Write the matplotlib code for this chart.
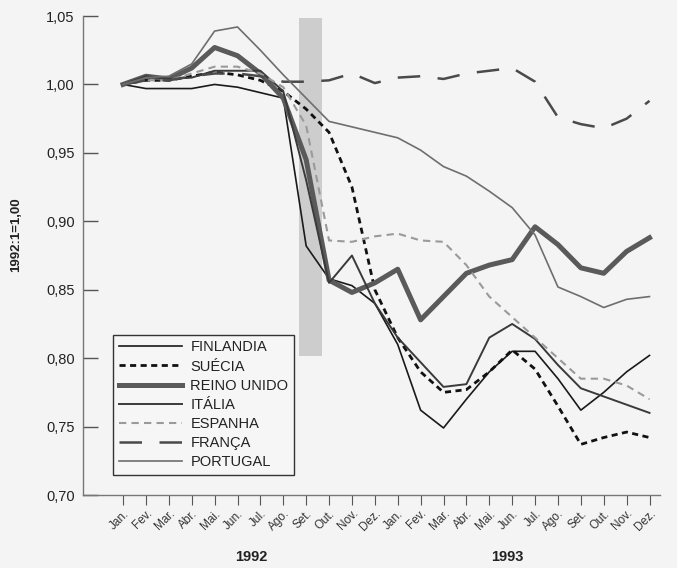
import matplotlib.pyplot as plt
import matplotlib.transforms as mtransforms

plt.rcParams['font.family'] = ['Liberation Sans', 'DejaVu Sans']

# months Jan 1992 .. Dez 1993
meses = ['Jan.', 'Fev.', 'Mar.', 'Abr.', 'Mai.', 'Jun.', 'Jul.', 'Ago.', 'Set.', 'Out.', 'Nov.', 'Dez.'] * 2

finlandia = [1.000, 0.997, 0.997, 0.997, 1.000, 0.998, 0.994, 0.990, 0.882, 0.858, 0.853, 0.840,
             0.810, 0.762, 0.749, 0.770, 0.790, 0.805, 0.805, 0.785, 0.762, 0.775, 0.790, 0.802]
suecia = [1.000, 1.003, 1.003, 1.006, 1.009, 1.007, 1.003, 0.995, 0.982, 0.965, 0.925, 0.850,
          0.815, 0.790, 0.775, 0.777, 0.790, 0.806, 0.792, 0.765, 0.737, 0.742, 0.746, 0.742]
reino_unido = [1.000, 1.006, 1.004, 1.012, 1.027, 1.021, 1.008, 0.990, 0.945, 0.857, 0.848, 0.855,
               0.865, 0.828, 0.845, 0.862, 0.868, 0.872, 0.896, 0.883, 0.866, 0.862, 0.878, 0.888]
italia = [1.000, 1.006, 1.004, 1.005, 1.010, 1.010, 1.010, 0.995, 0.930, 0.855, 0.875, 0.840,
          0.815, 0.797, 0.779, 0.781, 0.815, 0.825, 0.814, 0.795, 0.778, 0.772, 0.766, 0.760]
espanha = [1.000, 1.003, 1.003, 1.008, 1.013, 1.013, 1.008, 0.998, 0.970, 0.886, 0.885, 0.889,
           0.891, 0.886, 0.885, 0.868, 0.845, 0.830, 0.815, 0.800, 0.785, 0.785, 0.780, 0.770]
franca = [1.000, 1.003, 1.003, 1.006, 1.008, 1.008, 1.006, 1.002, 1.002, 1.003, 1.008, 1.001,
          1.005, 1.006, 1.004, 1.008, 1.010, 1.012, 1.002, 0.976, 0.971, 0.968, 0.975, 0.988]
portugal = [1.000, 1.005, 1.006, 1.015, 1.039, 1.042, 1.025, 1.007, 0.990, 0.973, 0.969, 0.965,
            0.961, 0.952, 0.940, 0.933, 0.922, 0.910, 0.890, 0.852, 0.845, 0.837, 0.843, 0.845]

x = list(range(len(meses)))

fig = plt.figure(figsize=(6.77, 5.68), dpi=100, facecolor='#f4f4f4')
ax = fig.add_axes([0.1226, 0.1285, 0.852, 0.8433], facecolor='#f4f4f4')

# shaded band (Set. 1992)
ax.axvspan(7.7, 8.7, ymin=0.29, ymax=0.995, color='#c4c4c4', alpha=0.8, lw=0, zorder=0.5)

ax.plot(x, finlandia, color='#1a1a1a', lw=1.2, label='FINLANDIA')
ax.plot(x, suecia, color='#111111', lw=2.0, dashes=(2.2, 1.6), label='SUÉCIA')
ax.plot(x, reino_unido, color='#5a5a5a', lw=3.6, label='REINO UNIDO')
ax.plot(x, italia, color='#3a3a3a', lw=1.4, label='ITÁLIA')
ax.plot(x, espanha, color='#9a9a9a', lw=1.5, dashes=(3.5, 2.5), label='ESPANHA')
ax.plot(x, franca, color='#4a4a4a', lw=1.8, dashes=(9, 7), label='FRANÇA')
ax.plot(x, portugal, color='#6e6e6e', lw=1.2, label='PORTUGAL')

ax.set_xlim(-1.75, 23.45)
ax.set_ylim(0.70, 1.05)

yt = [0.70, 0.75, 0.80, 0.85, 0.90, 0.95, 1.00, 1.05]
ax.set_yticks(yt)
ax.set_yticklabels([('%.2f' % v).replace('.', ',') for v in yt])
ax.tick_params(axis='y', direction='in', length=11, width=1.0, color='#555555',
               labelsize=10.5, labelcolor='#222222', pad=6)

ax.set_xticks(x)
ax.set_xticklabels(meses, rotation=45, ha='right', va='top', rotation_mode='anchor')
ax.tick_params(axis='x', direction='out', length=7, width=0.8, color='#555555',
               labelsize=8.5, labelcolor='#333333', pad=2)

for s in ['top', 'right']:
    ax.spines[s].set_visible(False)
for s in ['left', 'bottom']:
    ax.spines[s].set_color('#777777')
    ax.spines[s].set_linewidth(1.0)

ax.set_ylabel('1992:1=1,00', fontsize=9.5, fontweight='bold', color='#222222')
ax.yaxis.set_label_coords(-0.105, 0.543)

trans = mtransforms.blended_transform_factory(ax.transData, ax.transAxes)
ax.text(5.6, -0.13, '1992', transform=trans, ha='center', va='center',
        fontsize=10.5, fontweight='bold', color='#222222')
ax.text(16.8, -0.13, '1993', transform=trans, ha='center', va='center',
        fontsize=10.5, fontweight='bold', color='#222222')

leg = ax.legend(loc='lower left', bbox_to_anchor=(0.052, 0.042), borderaxespad=0,
                fontsize=10.5, handlelength=4.3, handletextpad=0.6, labelspacing=0.35,
                fancybox=False, framealpha=1, facecolor='#f6f6f6', edgecolor='#333333',
                borderpad=0.4)
leg.get_frame().set_linewidth(1.0)
for t in leg.get_texts():
    t.set_color('#222222')

plt.savefig('out.png', dpi=100, facecolor=fig.get_facecolor())
